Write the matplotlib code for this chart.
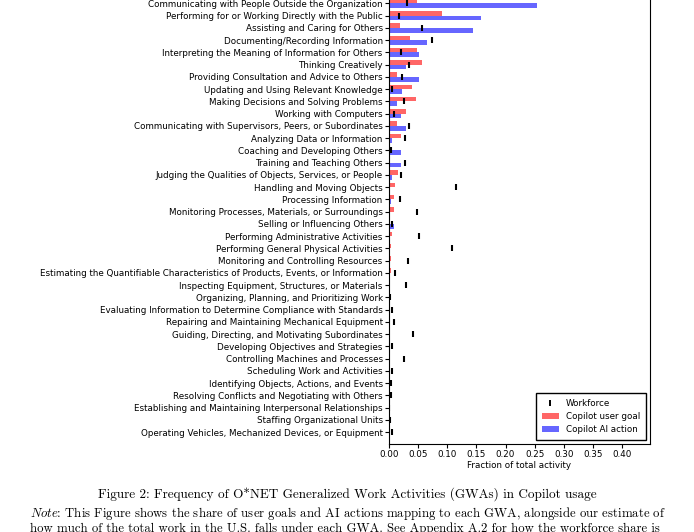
"""
Frequency of O*NET Generalized Work Activities (GWAs) in Copilot usage.
Horizontal paired bars (user goal / AI action) with workforce share ticks.
"""

import matplotlib
matplotlib.use("Agg")
import matplotlib.pyplot as plt
import numpy as np
from matplotlib.lines import Line2D
from matplotlib.patches import Patch

plt.rcParams["mathtext.fontset"] = "cm"

GWAS = [
    "Communicating with People Outside the Organization",
    "Performing for or Working Directly with the Public",
    "Assisting and Caring for Others",
    "Documenting/Recording Information",
    "Interpreting the Meaning of Information for Others",
    "Thinking Creatively",
    "Providing Consultation and Advice to Others",
    "Updating and Using Relevant Knowledge",
    "Making Decisions and Solving Problems",
    "Working with Computers",
    "Communicating with Supervisors, Peers, or Subordinates",
    "Analyzing Data or Information",
    "Coaching and Developing Others",
    "Training and Teaching Others",
    "Judging the Qualities of Objects, Services, or People",
    "Handling and Moving Objects",
    "Processing Information",
    "Monitoring Processes, Materials, or Surroundings",
    "Selling or Influencing Others",
    "Performing Administrative Activities",
    "Performing General Physical Activities",
    "Monitoring and Controlling Resources",
    "Estimating the Quantifiable Characteristics of Products, Events, or Information",
    "Inspecting Equipment, Structures, or Materials",
    "Organizing, Planning, and Prioritizing Work",
    "Evaluating Information to Determine Compliance with Standards",
    "Repairing and Maintaining Mechanical Equipment",
    "Guiding, Directing, and Motivating Subordinates",
    "Developing Objectives and Strategies",
    "Controlling Machines and Processes",
    "Scheduling Work and Activities",
    "Identifying Objects, Actions, and Events",
    "Resolving Conflicts and Negotiating with Others",
    "Establishing and Maintaining Interpersonal Relationships",
    "Staffing Organizational Units",
    "Operating Vehicles, Mechanized Devices, or Equipment",
]

user_goal = [
    0.048, 0.091, 0.019, 0.036, 0.048, 0.056, 0.014, 0.040, 0.046, 0.030,
    0.014, 0.021, 0.002, 0.001, 0.015, 0.011, 0.008, 0.008, 0.001, 0.006,
    0.003, 0.003, 0.003, 0.002, 0.001, 0.002, 0.002, 0.001, 0.0005, 0.0005,
    0.0005, 0.0005, 0.0003, 0.0003, 0.0002, 0.0002,
]

ai_action = [
    0.254, 0.158, 0.145, 0.065, 0.051, 0.030, 0.051, 0.023, 0.014, 0.020,
    0.030, 0.005, 0.021, 0.021, 0.005, 0.002, 0.003, 0.002, 0.008, 0.001,
    0.001, 0.0005, 0.0005, 0.0003, 0.0003, 0.0003, 0.0003, 0.0003, 0.0003, 0.0003,
    0.0003, 0.0003, 0.0003, 0.0003, 0.0002, 0.0002,
]

workforce = [
    0.031, 0.017, 0.056, 0.073, 0.020, 0.034, 0.022, 0.005, 0.025, 0.009,
    0.035, 0.028, 0.003, 0.027, 0.021, 0.115, 0.019, 0.048, 0.006, 0.051,
    0.108, 0.032, 0.010, 0.030, 0.001, 0.005, 0.009, 0.041, 0.005, 0.026,
    0.006, 0.004, 0.003, 0.0005, 0.001, 0.006,
]

XTICKS = [0.00, 0.05, 0.10, 0.15, 0.20, 0.25, 0.30, 0.35, 0.40]

FS = 6.3


def main():
    fig = plt.figure(figsize=(6.94, 5.32), dpi=100)
    # axes runs a little past the top edge: the reference is a crop
    ax = fig.add_axes([0.5605, 0.1654, 0.3761, 0.8465])

    y = np.arange(len(GWAS))
    h = 0.375
    ax.barh(y - h / 2, user_goal, height=h, color="red", alpha=0.6,
            label="Copilot user goal")
    ax.barh(y + h / 2, ai_action, height=h, color="blue", alpha=0.6,
            label="Copilot AI action")
    ax.plot(workforce, y, linestyle="none", marker="|", color="black",
            markersize=4.5, markeredgewidth=1.5, label="Workforce", zorder=5)

    ax.set_yticks(y)
    ax.set_yticklabels(GWAS, fontsize=FS)
    ax.set_ylim(35.96, -0.8)
    ax.set_xlim(0, 0.448)
    ax.set_xticks(XTICKS)
    ax.set_xticklabels([f"{v:.2f}" for v in XTICKS], fontsize=FS)
    ax.set_xlabel("Fraction of total activity", fontsize=FS, labelpad=1.5)
    ax.tick_params(length=3, pad=1.5)

    handles = [
        Line2D([], [], linestyle="none", marker="|", color="black",
               markersize=4, markeredgewidth=1.4),
        Patch(facecolor="red", alpha=0.6),
        Patch(facecolor="blue", alpha=0.6),
    ]
    ax.legend(handles, ["Workforce", "Copilot user goal", "Copilot AI action"],
              loc="lower right", fontsize=FS, fancybox=False,
              edgecolor="black", framealpha=1, borderpad=0.6)

    # caption block under the chart
    fig.text(347 / 694, 1 - 494 / 532,
             "Figure 2: Frequency of O*NET Generalized Work Activities (GWAs) in Copilot usage",
             ha="center", va="center", family="cmr10", fontsize=9.5)
    fig.text(30 / 694, 1 - 514 / 532,
             r"$\mathit{Note}$: This Figure shows the share of user goals and AI actions "
             "mapping to each GWA, alongside our estimate of",
             ha="left", va="center", family="cmr10", fontsize=9.2)
    fig.text(30 / 694, 1 - 528.5 / 532,
             "how much of the total work in the U.S. falls under each GWA. "
             "See Appendix A.2 for how the workforce share is",
             ha="left", va="center", family="cmr10", fontsize=9.2)

    fig.savefig("out.png", dpi=100)
    plt.close(fig)


if __name__ == "__main__":
    main()
